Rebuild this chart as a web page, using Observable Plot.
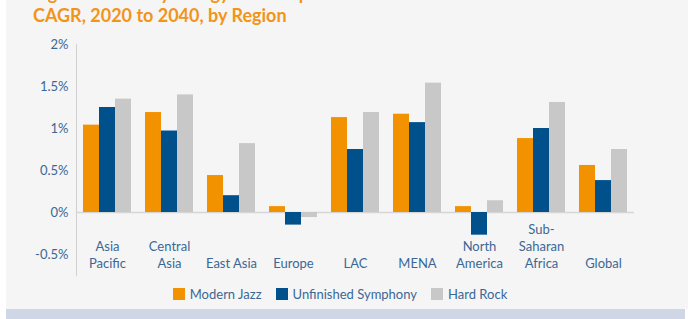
<!DOCTYPE html>
<html><head><meta charset="utf-8">
<script src="https://cdn.jsdelivr.net/npm/d3@7"></script>
<script src="https://cdn.jsdelivr.net/npm/@observablehq/plot@0.6"></script>
<style>
html,body{margin:0;padding:0;background:#fff;width:688px;height:319px;overflow:hidden;font-family:Lato,sans-serif}
#panel{position:absolute;left:6px;top:0;width:682px;height:309px;background:#f5f5f5}
#band{position:absolute;left:6px;top:309px;width:679px;height:10px;background:#cfd6e6}
#title{position:absolute;left:33px;top:-18px;color:#f29418;font-weight:700;font-size:18px;line-height:22px;white-space:nowrap}
#chart{position:absolute;left:0;top:0}
#legend{position:absolute;left:6px;top:277px;width:682px}
.leg-swatches-wrap{justify-content:center;font-family:Lato,sans-serif;font-size:13px;color:#3a6896}
.leg-swatches-wrap .leg-swatch{margin-right:14px}
.leg-swatches-wrap .leg-swatch svg{margin-right:5px}
</style></head><body>
<div id="panel"></div><div id="band"></div>
<div id="chart"></div>
<div id="title">Figure 3: Primary Energy Consumption Growth<br>CAGR, 2020 to 2040, by Region</div>
<div id="legend"></div>
<script>
const regions = ["Asia Pacific","Central Asia","East Asia","Europe","LAC","MENA","North America","Sub-Saharan Africa","Global"];
const regionLabels = ["Asia\nPacific","Central\nAsia","East Asia","Europe","LAC","MENA","North\nAmerica","Sub-\nSaharan\nAfrica","Global"];
const series = ["Modern Jazz","Unfinished Symphony","Hard Rock"];
const modernJazz = [1.04,1.19,0.44,0.07,1.13,1.17,0.07,0.88,0.56];
const unfinishedSymphony = [1.25,0.97,0.20,-0.15,0.75,1.07,-0.27,1.00,0.38];
const hardRock = [1.35,1.40,0.82,-0.06,1.19,1.54,0.14,1.31,0.75];
const yTicks = [-0.5,0,0.5,1,1.5,2];
const colors = ["#f39200","#00508b","#c8c8c8"];

const values = [modernJazz, unfinishedSymphony, hardRock];
const rows = regions.flatMap((r,i)=>series.map((s,j)=>({region:r, series:s, value:values[j][i]})));
const labelOf = new Map(regions.map((r,i)=>[r, regionLabels[i]]));
const textColor = "#3a6896";

const chart = Plot.plot({
  width:688, height:280, marginTop:44, marginBottom:5, marginLeft:76, marginRight:54,
  style:{background:"transparent", fontFamily:"Lato, sans-serif", fontSize:"13px", color:textColor, overflow:"visible"},
  fx:{domain:regions, paddingInner:0, paddingOuter:0, axis:null},
  x:{domain:series, paddingInner:0.03, paddingOuter:0.34, axis:null},
  y:{domain:[-0.75,2], axis:null},
  color:{domain:series, range:colors},
  marks:[
    Plot.ruleY([0], {stroke:"#d6d6d6", strokeWidth:1.5}),
    Plot.barY(rows, {fx:"region", x:"series", y:"value", fill:"series"}),
    Plot.frame({anchor:"left", stroke:"#d0d0d0", facetAnchor:"left"}),
    Plot.axisY(yTicks, {label:null, tickSize:0, tickPadding:8, tickFormat:d=>`${d}%`, fill:textColor, fontSize:13}),
    Plot.text(regions, {fx:d=>d, text:d=>labelOf.get(d), frameAnchor:"bottom", lineAnchor:"bottom", dy:-8, lineHeight:1.3, fill:textColor, fontSize:13})
  ]
});
document.getElementById("chart").appendChild(chart);

const leg = Plot.legend({color:{domain:series, range:colors}, legend:"swatches", swatchSize:12, className:"leg"});
document.getElementById("legend").appendChild(leg);
</script>
</body></html>
